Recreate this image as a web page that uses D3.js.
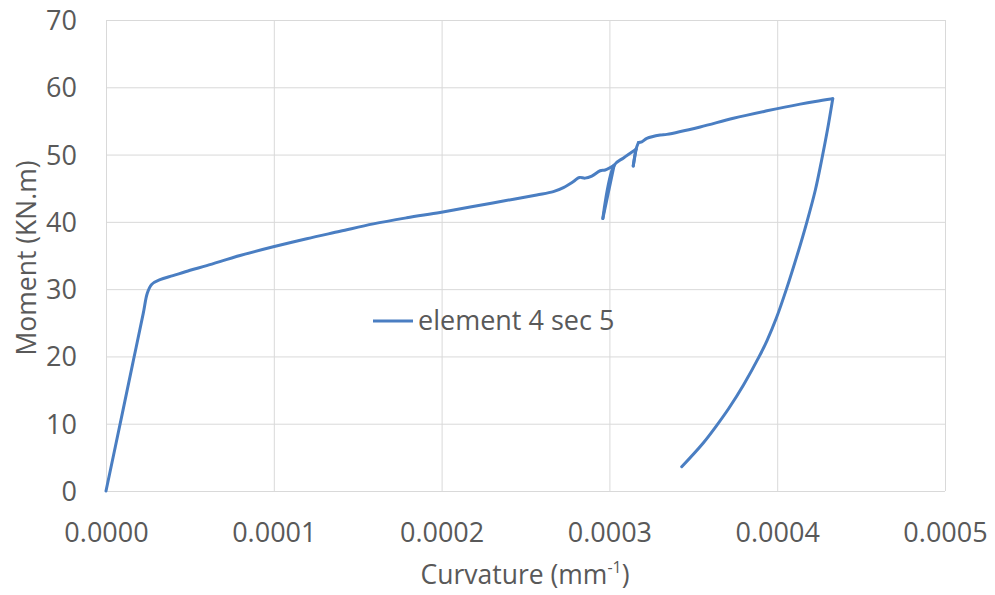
<!DOCTYPE html>
<html>
<head>
<meta charset="utf-8">
<script src="https://cdn.jsdelivr.net/npm/d3@7"></script>
<style>
  html, body { margin: 0; padding: 0; background: #ffffff; }
  svg { display: block; }
  text { font-family: "Open Sans", "Liberation Sans", sans-serif; fill: #595959; }
</style>
</head>
<body>
<svg id="chart" width="995" height="595"></svg>
<script>
// Moment–curvature response, element 4 section 5
const curvature = [
  0, 0.0000097, 0.0000164, 0.0000222, 0.0000246, 0.0000272, 0.0000322,
  0.0000399, 0.0000501, 0.0000600, 0.0000799, 0.0000997, 0.0001196, 0.0001395,
  0.0001593, 0.0001792, 0.0001991, 0.0002170, 0.0002368, 0.0002567, 0.0002666,
  0.0002726, 0.0002786, 0.0002821, 0.0002855, 0.0002895, 0.0002945, 0.0002975,
  0.0003028, 0.0002961, 0.0003028, 0.0003084, 0.0003159, 0.0003142, 0.0003159,
  0.0003173, 0.0003193, 0.0003223, 0.0003303, 0.0003342, 0.0003541, 0.0003739,
  0.0003939, 0.0004137, 0.0004227, 0.0004331, 0.0004299, 0.0004265, 0.0004227,
  0.0004176, 0.0004122, 0.0004055, 0.0003995, 0.0003940, 0.0003893, 0.0003800,
  0.0003712, 0.0003641, 0.0003558, 0.0003431
];
const moment = [
  0, 11.5, 19.5, 26.4, 29.4, 30.7, 31.4,
  32.0, 32.8, 33.5, 35.0, 36.3, 37.5, 38.6,
  39.7, 40.6, 41.4, 42.2, 43.1, 44.0, 44.5,
  45.1, 46.0, 46.6, 46.5, 46.8, 47.6, 47.7,
  48.4, 40.5, 48.4, 49.5, 50.8, 48.3, 50.8,
  51.8, 51.9, 52.4, 52.9, 53.0, 54.1, 55.4,
  56.5, 57.5, 57.9, 58.3, 53.6, 49.2, 44.7,
  39.9, 35.3, 30.0, 25.7, 22.4, 20.0, 15.8,
  12.3, 9.8, 7.1, 3.6
];
const xTicks = [0, 0.0001, 0.0002, 0.0003, 0.0004, 0.0005];
const yTicks = [0, 10, 20, 30, 40, 50, 60, 70];
const seriesName = "element 4 sec 5";
const xTitle = "Curvature (mm";
const yTitle = "Moment (KN.m)";

const svg = d3.select("#chart");
const plotLeft = 106, plotRight = 945, plotTop = 20, plotBottom = 491;
const gridColor = "#d9d9d9";
const lineColor = "#4a7ec2";
const labelSize = "27px";

const x = d3.scaleLinear().domain([0, 0.0005]).range([plotLeft, plotRight]);
const y = d3.scaleLinear().domain([0, 70]).range([plotBottom, plotTop]);

// Gridlines and tick labels
const xAxis = d3.axisBottom(x).tickValues(xTicks).tickSize(-(plotBottom - plotTop))
  .tickFormat(d => d.toFixed(4)).tickPadding(32);
const yAxis = d3.axisLeft(y).tickValues(yTicks).tickSize(-(plotRight - plotLeft))
  .tickFormat(d3.format("d")).tickPadding(29);

const gx = svg.append("g").attr("transform", `translate(0,${plotBottom})`).call(xAxis);
const gy = svg.append("g").attr("transform", `translate(${plotLeft},0)`).call(yAxis);

[gx, gy].forEach(g => {
  g.select(".domain").remove();
  g.selectAll(".tick line").attr("stroke", gridColor).attr("stroke-width", 1);
  g.selectAll(".tick text").style("font-size", labelSize).attr("fill", "#595959");
});
gx.selectAll(".tick text").attr("dy", "0.71em");
gy.selectAll(".tick text").attr("dy", "0.35em");

// Series line: smoothed along each branch, sharp where the path turns sharply
const pts = curvature.map((c, i) => [x(c), y(moment[i])]);
const breaks = [0];
for (let i = 1; i < pts.length - 1; i++) {
  const ax = pts[i][0] - pts[i - 1][0], ay = pts[i][1] - pts[i - 1][1];
  const bx = pts[i + 1][0] - pts[i][0], by = pts[i + 1][1] - pts[i][1];
  const cosTurn = (ax * bx + ay * by) / (Math.hypot(ax, ay) * Math.hypot(bx, by));
  if (cosTurn < 0.75) breaks.push(i);
}
breaks.push(pts.length - 1);

const line = d3.line().curve(d3.curveCatmullRom.alpha(0.5));
const gLine = svg.append("g");
for (let k = 0; k < breaks.length - 1; k++) {
  gLine.append("path")
    .attr("d", line(pts.slice(breaks[k], breaks[k + 1] + 1)))
    .attr("fill", "none")
    .attr("stroke", lineColor)
    .attr("stroke-width", 3)
    .attr("stroke-linejoin", "round")
    .attr("stroke-linecap", "round");
}

// Legend
svg.append("line")
  .attr("x1", 373).attr("x2", 413).attr("y1", 321).attr("y2", 321)
  .attr("stroke", lineColor).attr("stroke-width", 3);
svg.append("text")
  .attr("x", 418).attr("y", 321).attr("dy", "0.35em")
  .style("font-size", labelSize)
  .text(seriesName);

// Axis titles
const xt = svg.append("text")
  .attr("x", 525).attr("y", 584)
  .attr("text-anchor", "middle")
  .style("font-size", "26.5px");
xt.append("tspan").text(xTitle);
xt.append("tspan").attr("baseline-shift", "super").style("font-size", "16px").text("-1");
xt.append("tspan").text(")");

svg.append("text")
  .attr("transform", "translate(27,258) rotate(-90)")
  .attr("dy", "0.35em")
  .attr("text-anchor", "middle")
  .style("font-size", "26.5px")
  .text(yTitle);
</script>
</body>
</html>
